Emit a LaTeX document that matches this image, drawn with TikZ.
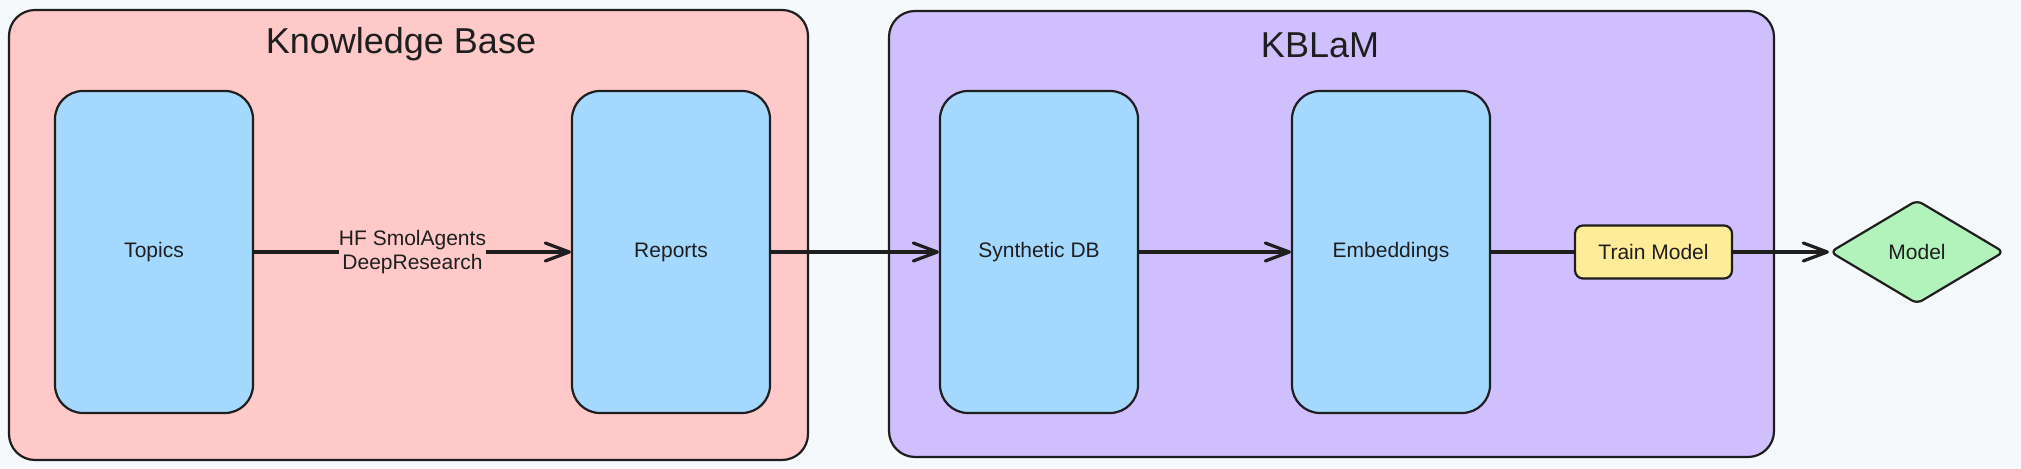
\documentclass[tikz,border=0pt]{standalone}
\usepackage{fontspec}
\setmainfont{Liberation Sans}
\usepackage{xcolor}
\usetikzlibrary{positioning,shapes.geometric,arrows.meta}
\definecolor{bgcol}{HTML}{F5F9FC}
\definecolor{inkcol}{HTML}{1E1E1E}
\definecolor{kbpink}{HTML}{FFC9C9}
\definecolor{kblamviolet}{HTML}{D0BFFF}
\definecolor{stepblue}{HTML}{A5D8FF}
\definecolor{trainyellow}{HTML}{FFEC99}
\definecolor{modelgreen}{HTML}{B2F2BB}
\newcommand{\lbl}{\fontsize{10.5}{12}\selectfont}

\begin{document}
\begin{tikzpicture}[-{Straight Barb[length=12pt,width=9pt,round]}, on grid, line width=1.6pt, color=inkcol, line cap=round,
group/.style ={ rectangle, rounded corners=13pt, draw, line width=1.1pt, inner sep=0pt},
title/.style ={ font=\fontsize{18}{22}\selectfont},
stepbox/.style ={ rectangle, rounded corners=14pt, fill=stepblue,
draw, line width=1.1pt, minimum width=99pt, minimum height=161pt, font=\lbl},
train/.style ={ rectangle, rounded corners=4pt, fill=trainyellow,
draw, line width=1.1pt, minimum width=78.5pt, minimum height=26.5pt, font=\lbl},
decision/.style ={ diamond, aspect=1.67, rounded corners=3pt, fill=modelgreen,
draw, line width=1.1pt, minimum width=87pt, minimum height=52pt, inner sep=0pt, font=\lbl},
edgelbl/.style ={ fill=kbpink, align=center, inner sep=0pt, font=\lbl}]
\path[-, fill=bgcol, use as bounding box] (0,0) rectangle (1010.5pt,234.5pt);

% the two groups
\node[group, fill=kbpink, minimum width=399.5pt, minimum height=225pt] (KB) at (204.25pt,117pt) {};
\node[group, fill=kblamviolet, minimum width=442.5pt, minimum height=223pt] (KBLaM) at (665.75pt,117.5pt) {};
\node[title] (KBtitle) at ([xshift=-3.75pt, yshift=-17.5pt]KB.north) {Knowledge Base};
\node[title] (KBLaMtitle) at ([xshift=-5.75pt, yshift=-17.5pt]KBLaM.north) {KBLaM};

% steps
\node[stepbox] (Topics) at (77pt,108.5pt) {Topics};
\node[stepbox] (Reports) [right=258.5pt of Topics] {Reports};
\node[stepbox] (SynthDB) [right=184pt of Reports] {Synthetic DB};
\node[stepbox] (Embed) [right=176pt of SynthDB] {Embeddings};
\node[train] (Train) [right=131.25pt of Embed] {Train Model};
\node[decision] (Model) [right=131.75pt of Train] {Model};

\path (Topics) edge node[edgelbl] {HF SmolAgents\\DeepResearch} (Reports);
\path (Reports) edge (SynthDB);
\path (SynthDB) edge (Embed);
\path (Embed) edge[-] (Train);
\path (Train) edge (Model);
\end{tikzpicture}
\end{document}
